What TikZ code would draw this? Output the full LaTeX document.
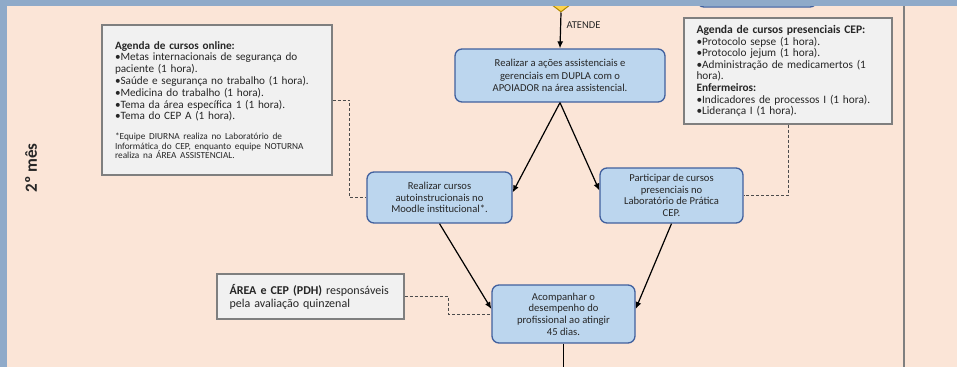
\documentclass[tikz,border=0pt]{standalone}
\usepackage{fontspec}
\setmainfont{Carlito}
\usetikzlibrary{shapes.geometric,arrows.meta}
\definecolor{bgpeach}{HTML}{FBE5D7}
\definecolor{laneblue}{HTML}{8FAAC9}
\definecolor{procfill}{HTML}{BCD6EE}
\definecolor{procedge}{HTML}{41609E}
\definecolor{notefill}{HTML}{F1F1F1}
\definecolor{noteedge}{HTML}{7F7F7F}
\definecolor{decfill}{HTML}{FFD34D}
\definecolor{decedge}{HTML}{B08A00}
\definecolor{txt}{HTML}{262626}
\tikzset{
  proc/.style={draw=procedge, line width=1.3pt, fill=procfill, rounded corners=7pt,
    align=center, font=\fontsize{10.6}{11.7}\selectfont, text=txt, inner sep=0pt},
  note/.style={draw=noteedge, line width=1.4pt, fill=notefill, align=left,
    inner sep=0pt, text=txt, font=\fontsize{11.2}{11.8}\selectfont},
  flow/.style={-{Latex[length=7pt,width=6pt]}, line width=1.2pt, black},
  link/.style={dash pattern=on 3pt off 2pt, line width=0.9pt, draw=black!70},
}
\begin{document}
\begin{tikzpicture}[x=1pt,y=-1pt]
\clip (0,0) rectangle (957,367);
\fill[bgpeach] (0,0) rectangle (957,367);

% lane title
\node[rotate=90, font=\bfseries\fontsize{17}{17}\selectfont, text=txt] (lane) at (31,168) {2º mês};

% lane divider
\draw[noteedge, line width=1.8pt] (904,0) -- (904,367);

% shapes continuing from the lane above
\node[proc, minimum width=120, minimum height=40] (prev) at (757,-13) {};
\node[diamond, draw=decedge, fill=decfill, line width=1pt, minimum width=60,
      minimum height=46, inner sep=0pt] (dec) at (561,-11) {};

% process steps
\node[proc, minimum width=210, minimum height=53, font=\fontsize{10.6}{12.3}\selectfont] (b1) at (560,75.5)
  {Realizar a ações assistenciais e\\gerenciais em DUPLA com o\\APOIADOR na área assistencial.};
\node[proc, minimum width=145, minimum height=51] (b2) at (439.5,197.5)
  {Realizar cursos\\autoinstrucionais no\\Moodle institucional*.};
\node[proc, minimum width=143, minimum height=55] (b3) at (671.5,195.5)
  {Participar de cursos\\presenciais no\\Laboratório de Prática\\CEP.};
\node[proc, minimum width=143, minimum height=58] (b4) at (563.5,314)
  {Acompanhar o\\desempenho do\\profissional ao atingir\\45 dias.};

% notes
\node[note, minimum width=230, minimum height=150, text width=204] (n1) at (217,100)
  {{\bfseries Agenda de cursos online:}\\
   •Metas internacionais de segurança do\\
   paciente (1 hora).\\
   •Saúde e segurança no trabalho (1 hora).\\
   •Medicina do trabalho (1 hora).\\
   •Tema da área específica 1 (1 hora).\\
   •Tema do CEP A (1 hora).\par\vspace{10pt}
   {\raggedright\fontsize{9.3}{9.6}\selectfont *Equipe DIURNA realiza no Laboratório de\\
   Informática do CEP, enquanto equipe NOTURNA\\
   realiza na ÁREA ASSISTENCIAL.\par}};
\node[note, minimum width=208, minimum height=106, text width=183, font=\fontsize{11.3}{11.6}\selectfont] (n2) at (788,71)
  {{\bfseries\fontsize{11.6}{11.6}\selectfont Agenda de cursos presenciais CEP:}\\
   •Protocolo sepse (1 hora).\\
   •Protocolo jejum (1 hora).\\
   •Administração de medicamertos (1\\
   hora).\\
   {\bfseries Enfermeiros:}\\
   •Indicadores de processos I (1 hora).\\
   •Liderança I (1 hora).};
\node[note, minimum width=187, minimum height=45, text width=162, font=\fontsize{12}{13}\selectfont] (n3) at (310.5,296.5)
  {{\bfseries ÁREA e CEP (PDH)} responsáveis\\pela avaliação quinzenal};

% flow
\draw[flow] (dec.south) -- (b1.north);
\node[anchor=west, font=\fontsize{10.5}{10.5}\selectfont, text=txt] (lab) at (563,25) {ATENDE};
\draw[flow] (b1.south) -- (b2.4);
\draw[flow] (b1.south) -- (b3.176);
\draw[flow] (b2.south) -- (b4.176);
\draw[flow] (b3.south) -- (b4.4);
\coordinate (out) at (563.5,367);
\draw[line width=1.2pt] (b4.south) -- (out);

% note links
\draw[link] (n1.east) -- ++(17,0) |- (b2.west);
\draw[link] (n2.south) |- (b3.east);
\draw[link] (n3.east) -- ++(44,0) |- (b4.west);

% lane frame
\fill[laneblue] (0,0) rectangle (957,6);
\fill[laneblue] (0,0) rectangle (7,367);
\end{tikzpicture}
\end{document}
